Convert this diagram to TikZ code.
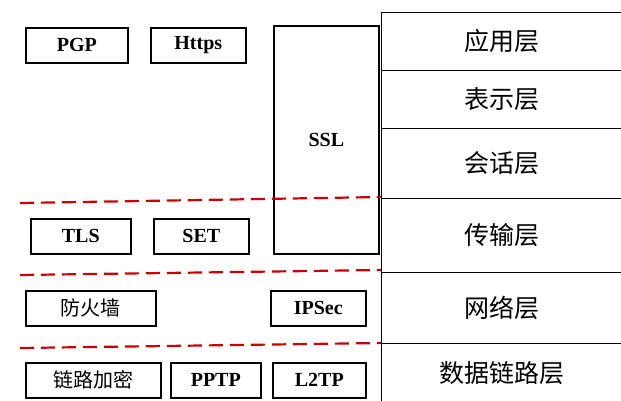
\documentclass[tikz,border=0pt]{standalone}
\usepackage{fontspec}
\setmainfont{Liberation Serif}
\newfontfamily\cjk{Noto Sans CJK SC}
\begin{document}
\begin{tikzpicture}[x=1pt,y=-1pt,
 bx/.style={draw,line width=1.6pt,font=\bfseries\fontsize{20}{20}\selectfont,inner sep=0pt},
 cbx/.style={bx,font=\cjk\fontsize{20}{20}\selectfont},
 lay/.style={draw,line width=1pt,font=\cjk\fontsize{25}{25}\selectfont},
 sep/.style={draw=red!80!black,line width=2.2pt,dash pattern=on 14pt off 7pt}]
\useasboundingbox (0,0) rectangle (621,400);
\node[lay,minimum width=240,minimum height=58,anchor=north west] (l1) at (381,12) {应用层};
\node[lay,minimum width=240,minimum height=58,anchor=north west] (l2) at (381,70) {表示层};
\node[lay,minimum width=240,minimum height=70,anchor=north west] (l3) at (381,128) {会话层};
\node[lay,minimum width=240,minimum height=74,anchor=north west] (l4) at (381,198) {传输层};
\node[lay,minimum width=240,minimum height=71,anchor=north west] (l5) at (381,272) {网络层};
\node[lay,minimum width=240,minimum height=60,anchor=north west] (l6) at (381,343) {数据链路层};
\node[bx,minimum width=102,minimum height=35,anchor=north west] (pgp) at (25,27) {PGP};
\node[bx,minimum width=95,minimum height=35,anchor=north west] (https) at (150,27) {Https};
\node[bx,minimum width=105,minimum height=228,anchor=north west] (ssl) at (273,25) {SSL};
\node[bx,minimum width=100,minimum height=35,anchor=north west] (tls) at (30,218) {TLS};
\node[bx,minimum width=95,minimum height=35,anchor=north west] (set) at (153,218) {SET};
\node[cbx,minimum width=130,minimum height=35,anchor=north west] (fw) at (25,290) {防火墙};
\node[bx,minimum width=95,minimum height=35,anchor=north west] (ipsec) at (270,290) {IPSec};
\node[cbx,minimum width=135,minimum height=35,anchor=north west] (enc) at (25,362) {链路加密};
\node[bx,minimum width=90,minimum height=35,anchor=north west] (pptp) at (170,362) {PPTP};
\node[bx,minimum width=93,minimum height=35,anchor=north west] (l2tp) at (272,362) {L2TP};
\coordinate (a1) at (20,203); \coordinate (a2) at (381,197);
\coordinate (b1) at (20,275); \coordinate (b2) at (381,270);
\coordinate (c1) at (20,348); \coordinate (c2) at (381,343);
\draw[sep] (a1) -- (a2);
\draw[sep] (b1) -- (b2);
\draw[sep] (c1) -- (c2);
\end{tikzpicture}
\end{document}
